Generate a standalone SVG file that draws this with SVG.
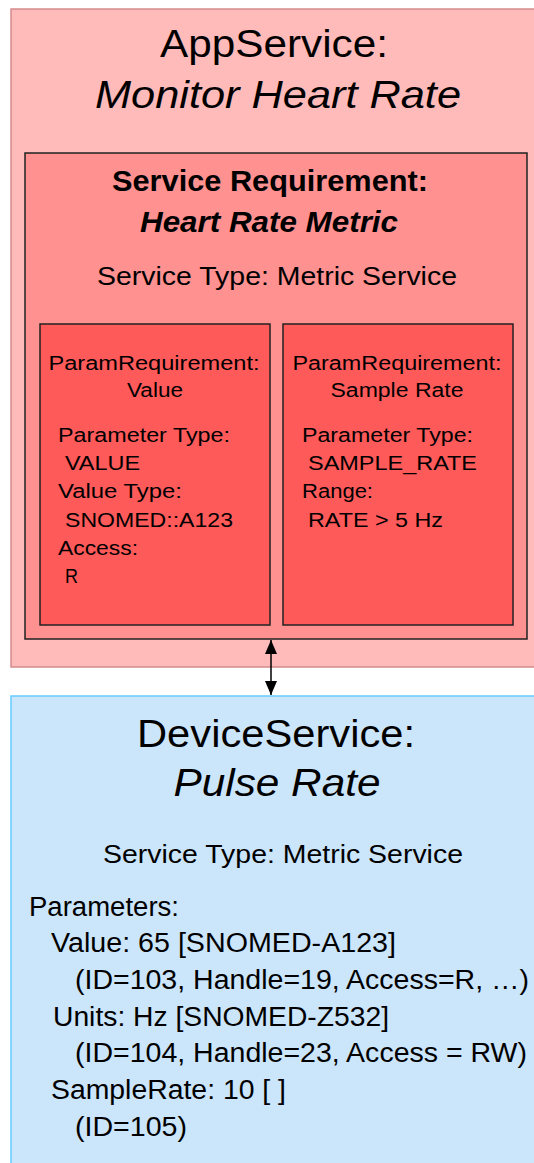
<svg xmlns="http://www.w3.org/2000/svg" width="534" height="1163" viewBox="0 0 534 1163">
  <defs>
    <style>
      text { font-family: "Liberation Sans", Arial, sans-serif; fill: #000; }
      .title { font-size: 39px; text-anchor: middle; }
      .sub { font-size: 29px; font-weight: bold; text-anchor: middle; }
      .type { font-size: 25px; text-anchor: middle; }
      .ph { font-size: 20px; text-anchor: middle; }
      .pl { font-size: 20px; }
      .dl { font-size: 27px; }
      .it { font-style: italic; }
    </style>
    <marker id="ah" viewBox="0 0 14 12" refX="14" refY="6" markerWidth="14" markerHeight="12" markerUnits="userSpaceOnUse" orient="auto-start-reverse">
      <path d="M0,0 L14,6 L0,12 z" fill="#000"/>
    </marker>
  </defs>

  <!-- application service -->
  <g id="app-service">
    <rect x="11" y="9" width="530" height="658" fill="#ffbaba" stroke="#d48c8c" stroke-width="1.5"/>
    <text class="title" x="274" y="57" textLength="228" lengthAdjust="spacingAndGlyphs">AppService:</text>
    <text class="title it" x="278" y="108" textLength="366" lengthAdjust="spacingAndGlyphs">Monitor Heart Rate</text>
  </g>

  <g id="service-requirement">
    <rect x="25" y="153" width="502" height="486" fill="#ff9191" stroke="#222" stroke-width="1.5"/>
    <text class="sub" x="270" y="191" textLength="316" lengthAdjust="spacingAndGlyphs">Service Requirement:</text>
    <text class="sub it" x="269" y="232" textLength="258" lengthAdjust="spacingAndGlyphs">Heart Rate Metric</text>
    <text class="type" x="277" y="285" textLength="360" lengthAdjust="spacingAndGlyphs">Service Type: Metric Service</text>
  </g>

  <g id="param-value">
    <rect x="40" y="324" width="230" height="301" fill="#ff5a5a" stroke="#222" stroke-width="1.5"/>
    <text class="ph" x="154" y="370" textLength="211" lengthAdjust="spacingAndGlyphs">ParamRequirement:</text>
    <text class="ph" x="155" y="397" textLength="56" lengthAdjust="spacingAndGlyphs">Value</text>
    <text class="pl" x="58" y="442" textLength="172" lengthAdjust="spacingAndGlyphs">Parameter Type:</text>
    <text class="pl" x="65" y="470" textLength="75" lengthAdjust="spacingAndGlyphs">VALUE</text>
    <text class="pl" x="58" y="498" textLength="124" lengthAdjust="spacingAndGlyphs">Value Type:</text>
    <text class="pl" x="65" y="527" textLength="168" lengthAdjust="spacingAndGlyphs">SNOMED::A123</text>
    <text class="pl" x="58" y="555" textLength="80" lengthAdjust="spacingAndGlyphs">Access:</text>
    <text class="pl" x="65" y="583" textLength="13" lengthAdjust="spacingAndGlyphs">R</text>
  </g>

  <g id="param-sample-rate">
    <rect x="283" y="324" width="230" height="301" fill="#ff5a5a" stroke="#222" stroke-width="1.5"/>
    <text class="ph" x="397" y="370" textLength="209" lengthAdjust="spacingAndGlyphs">ParamRequirement:</text>
    <text class="ph" x="397" y="397" textLength="133" lengthAdjust="spacingAndGlyphs">Sample Rate</text>
    <text class="pl" x="302" y="442" textLength="171" lengthAdjust="spacingAndGlyphs">Parameter Type:</text>
    <text class="pl" x="308" y="470" textLength="169" lengthAdjust="spacingAndGlyphs">SAMPLE_RATE</text>
    <text class="pl" x="302" y="498" textLength="71" lengthAdjust="spacingAndGlyphs">Range:</text>
    <text class="pl" x="308" y="527" textLength="135" lengthAdjust="spacingAndGlyphs">RATE &gt; 5 Hz</text>
  </g>

  <!-- device service -->
  <g id="device-service">
    <rect x="11" y="696" width="530" height="480" fill="#cbe5fb" stroke="#66ccff" stroke-width="1.5"/>
    <text class="title" x="276" y="747" textLength="278" lengthAdjust="spacingAndGlyphs">DeviceService:</text>
    <text class="title it" x="277" y="796" textLength="207" lengthAdjust="spacingAndGlyphs">Pulse Rate</text>
    <text class="type" x="283" y="863" textLength="360" lengthAdjust="spacingAndGlyphs">Service Type: Metric Service</text>
    <text class="dl" x="29" y="916" textLength="150" lengthAdjust="spacingAndGlyphs">Parameters:</text>
    <text class="dl" x="51" y="952" textLength="345" lengthAdjust="spacingAndGlyphs">Value: 65 [SNOMED-A123]</text>
    <text class="dl" x="75" y="989" textLength="454" lengthAdjust="spacingAndGlyphs">(ID=103, Handle=19, Access=R, …)</text>
    <text class="dl" x="53" y="1026" textLength="336" lengthAdjust="spacingAndGlyphs">Units: Hz [SNOMED-Z532]</text>
    <text class="dl" x="75" y="1062" textLength="452" lengthAdjust="spacingAndGlyphs">(ID=104, Handle=23, Access = RW)</text>
    <text class="dl" x="51" y="1099" textLength="235" lengthAdjust="spacingAndGlyphs">SampleRate: 10 [ ]</text>
    <text class="dl" x="75" y="1136" textLength="112" lengthAdjust="spacingAndGlyphs">(ID=105)</text>
  </g>

  <g id="connectors">
    <line x1="271" y1="640" x2="271" y2="695" stroke="#000" stroke-width="1.5" marker-start="url(#ah)" marker-end="url(#ah)"/>
  </g>
</svg>
